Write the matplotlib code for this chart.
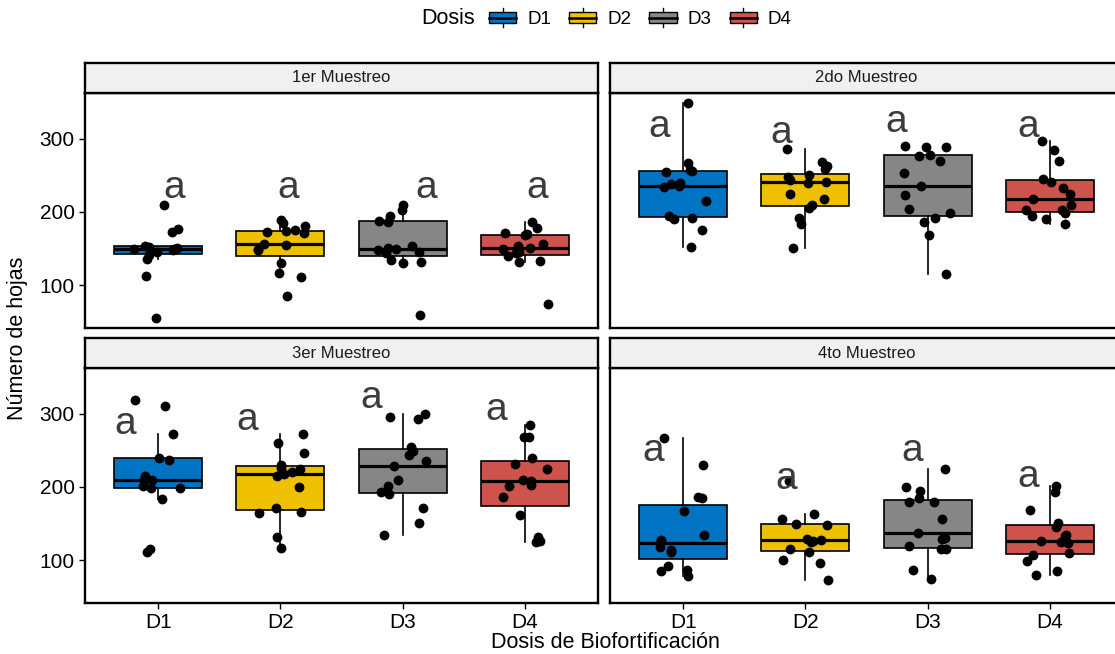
import numpy as np
import matplotlib
matplotlib.use('Agg')
import matplotlib.pyplot as plt
from matplotlib.patches import Rectangle
from matplotlib.lines import Line2D
from matplotlib.legend_handler import HandlerBase

plt.rcParams['font.family'] = ['Liberation Sans', 'DejaVu Sans']

# Datos
dosis = ['D1', 'D2', 'D3', 'D4']
colores = ['#0073C2', '#EFC000', '#868686', '#CD534C']
muestreos = ['1er Muestreo', '2do Muestreo', '3er Muestreo', '4to Muestreo']

# 1er muestreo
m1_d1 = [210, 177, 173, 154, 152, 151, 150, 149, 148, 146, 142, 136, 113, 56]
m1_d2 = [189, 185, 181, 175, 174, 172, 173, 157, 155, 149, 148, 131, 117, 111, 85]
m1_d3 = [210, 203, 194, 188, 187, 153, 151, 150, 148, 145, 144, 135, 132, 131, 60]
m1_d4 = [186, 178, 172, 170, 168, 156, 153, 151, 150, 145, 144, 140, 133, 132, 74]

# 2do muestreo
m2_d1 = [348, 267, 257, 256, 255, 240, 238, 236, 234, 215, 194, 192, 191, 176, 152]
m2_d2 = [286, 268, 262, 259, 250, 248, 243, 241, 240, 225, 217, 210, 205, 192, 184, 151]
m2_d3 = [290, 289, 289, 278, 276, 269, 253, 236, 223, 204, 198, 192, 187, 168, 115]
m2_d4 = [297, 284, 270, 245, 241, 232, 225, 218, 210, 203, 202, 198, 195, 191, 183]

# 3er muestreo
m3_d1 = [319, 310, 272, 240, 237, 215, 210, 209, 201, 199, 198, 184, 115, 111]
m3_d2 = [272, 260, 246, 230, 226, 225, 221, 218, 215, 200, 171, 166, 164, 132, 117]
m3_d3 = [300, 295, 292, 255, 249, 243, 236, 228, 210, 201, 193, 190, 172, 151, 135]
m3_d4 = [284, 268, 268, 240, 231, 225, 209, 208, 203, 202, 186, 162, 132, 127, 125]

# 4to muestreo
m4_d1 = [267, 230, 187, 185, 167, 135, 128, 124, 118, 114, 111, 92, 87, 85, 79]
m4_d2 = [208, 163, 156, 150, 148, 129, 128, 127, 125, 116, 111, 101, 96, 73]
m4_d3 = [225, 200, 194, 185, 180, 179, 156, 137, 131, 129, 119, 116, 116, 87, 75]
m4_d4 = [201, 193, 169, 151, 146, 135, 133, 126, 125, 124, 110, 108, 99, 85, 80]

datos = [[m1_d1, m1_d2, m1_d3, m1_d4],
         [m2_d1, m2_d2, m2_d3, m2_d4],
         [m3_d1, m3_d2, m3_d3, m3_d4],
         [m4_d1, m4_d2, m4_d3, m4_d4]]

# letras de significancia (Tukey)
letras = [['a', 'a', 'a', 'a']] * 4
letras_y = [[233, 233, 233, 233],
            [316, 308, 322, 316],
            [286, 291, 321, 305],
            [249, 211, 249, 213]]
letras_dx = [[0.13, 0.06, 0.19, 0.10],
             [-0.20, -0.20, -0.26, -0.18],
             [-0.27, -0.27, -0.26, -0.23],
             [-0.25, -0.16, -0.13, -0.18]]


class BoxHandler(HandlerBase):
    # glifo de boxplot para la leyenda
    def create_artists(self, legend, orig_handle, xdescent, ydescent,
                       width, height, fontsize, trans):
        x0, y0 = -xdescent, -ydescent
        cx = x0 + width / 2
        box = Rectangle((x0, y0 + 0.22 * height), width, 0.56 * height,
                        facecolor=orig_handle.get_facecolor(), edgecolor='black',
                        lw=1.0, transform=trans)
        med = Line2D([x0, x0 + width], [y0 + 0.5 * height] * 2, color='black',
                     lw=1.8, transform=trans)
        w1 = Line2D([cx, cx], [y0, y0 + 0.22 * height], color='black', lw=1.0,
                    transform=trans)
        w2 = Line2D([cx, cx], [y0 + 0.78 * height, y0 + height], color='black',
                    lw=1.0, transform=trans)
        return [box, med, w1, w2]


fig = plt.figure(figsize=(11.15, 6.54), dpi=100)

W, H = 1115, 654
col_x = [85 / W, 610 / W]
ax_w = 513 / W
row_y = [1 - 328 / H, 1 - 603 / H]
ax_h = 235 / H
strip_h = 30 / H

rng = np.random.default_rng(7)
pos = np.arange(1, 5)

for k in range(4):
    fila, col = divmod(k, 2)
    ax = fig.add_axes([col_x[col], row_y[fila], ax_w, ax_h])
    bp = ax.boxplot(datos[k], positions=pos, widths=0.72, patch_artist=True,
                    showfliers=False, showcaps=False,
                    medianprops=dict(color='black', lw=2.3),
                    boxprops=dict(edgecolor='black', lw=1.2),
                    whiskerprops=dict(color='black', lw=1.2))
    for patch, c in zip(bp['boxes'], colores):
        patch.set_facecolor(c)
    for i, vals in enumerate(datos[k]):
        jit = rng.uniform(-0.2, 0.2, len(vals))
        ax.scatter(pos[i] + jit, vals, s=50, color='black', zorder=3, lw=0)
        ax.text(pos[i] + letras_dx[k][i], letras_y[k][i], letras[k][i],
                fontsize=28, color='#3c3c3c', ha='center', va='center')

    ax.set_xlim(0.4, 4.6)
    ax.set_ylim(42, 362)
    ax.set_xticks(pos)
    ax.set_xticklabels(dosis)
    ax.set_yticks([100, 200, 300])
    for s in ax.spines.values():
        s.set_linewidth(1.7)
        s.set_color('black')
    ax.tick_params(length=4, width=1, color='black', labelsize=15,
                   labelcolor='black')
    if fila == 0:
        ax.tick_params(bottom=False, labelbottom=False)
    if col == 1:
        ax.tick_params(left=False, labelleft=False)

    # tira del facet
    st = fig.add_axes([col_x[col], row_y[fila] + ax_h, ax_w, strip_h])
    st.set_facecolor('#F0F0F0')
    st.set_xticks([])
    st.set_yticks([])
    for s in st.spines.values():
        s.set_linewidth(1.7)
        s.set_color('black')
    st.text(0.5, 0.5, muestreos[k], transform=st.transAxes, ha='center',
            va='center', fontsize=12, color='#1a1a1a')

fig.text(18 / W, 1 - 338 / H, 'Número de hojas', rotation=90, ha='center',
         va='center', fontsize=15.5)
fig.text(605 / W, 1 - 642 / H, 'Dosis de Biofortificación', ha='center',
         va='center', fontsize=15.5)

# leyenda
handles = [Rectangle((0, 0), 1, 1, facecolor=c) for c in colores]
fig.text(475 / W, 1 - 18 / H, 'Dosis', ha='right', va='center', fontsize=15.5)
fig.legend(handles, dosis, loc='center left', bbox_to_anchor=(489 / W, 1 - 18 / H),
           ncol=4, frameon=False, handler_map={Rectangle: BoxHandler()},
           fontsize=13.5, handlelength=1.45, handleheight=1.2, handletextpad=0.6,
           columnspacing=0.95, borderpad=0, borderaxespad=0)

fig.savefig('out.png', dpi=100)
